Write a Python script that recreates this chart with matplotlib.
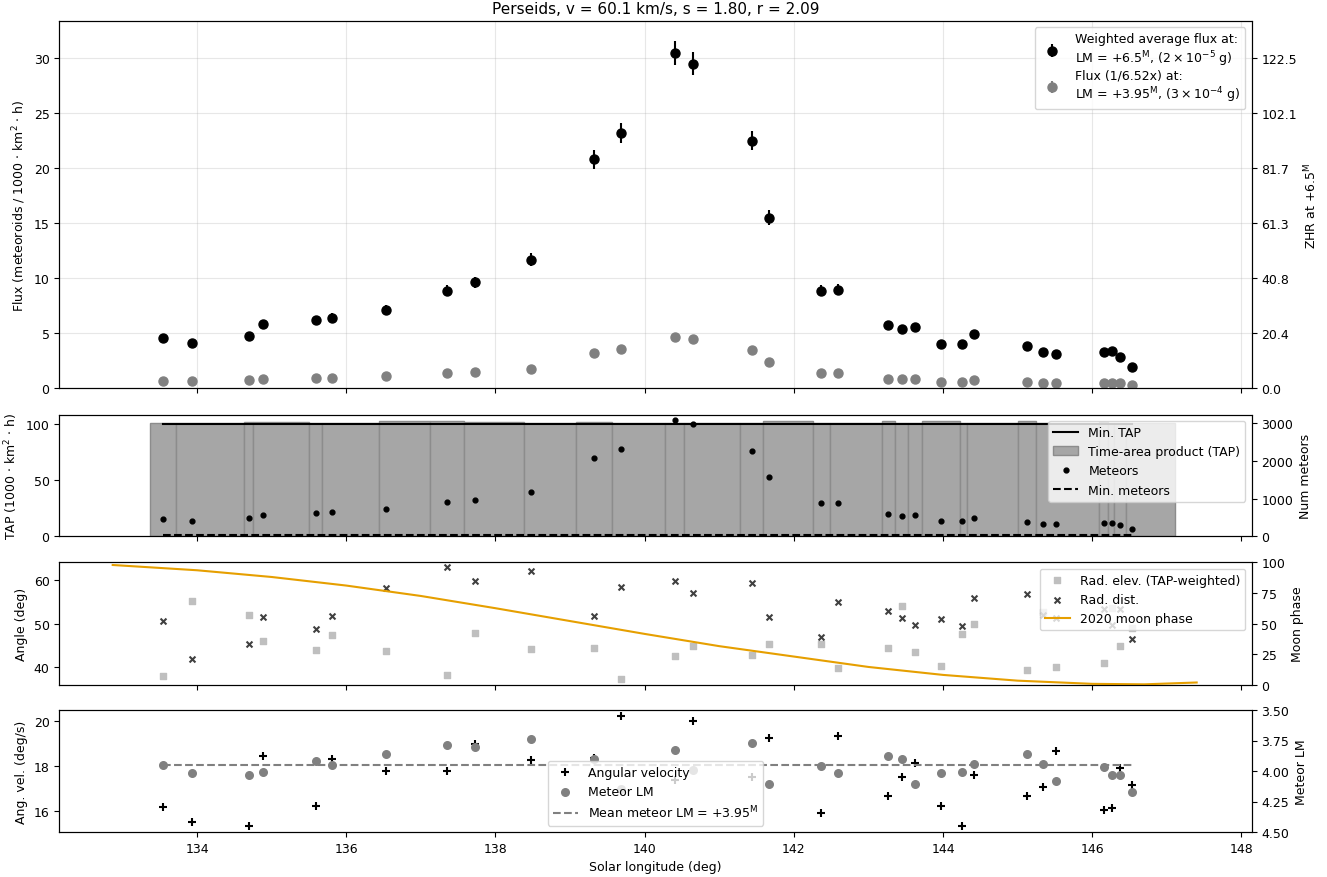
import numpy as np
import matplotlib
matplotlib.use('Agg')
import matplotlib.pyplot as plt
from matplotlib.patches import Patch
from matplotlib.lines import Line2D

plt.rcParams['font.size'] = 9

# Solar longitude of each flux bin (deg)
sol = [133.544, 133.933, 134.697, 134.885, 135.595, 135.810, 136.533, 137.351,
       137.727, 138.477, 139.322, 139.684, 140.408, 140.649, 141.440, 141.668,
       142.365, 142.592, 143.263, 143.450, 143.624, 143.973, 144.255, 144.416,
       145.126, 145.340, 145.515, 146.158, 146.265, 146.373, 146.534]

flux = [4.6, 4.15, 4.75, 5.8, 6.2, 6.4, 7.15, 8.85, 9.65, 11.7, 20.8, 23.2, 30.5,
        29.5, 22.5, 15.5, 8.85, 8.95, 5.75, 5.4, 5.55, 4.0, 4.0, 4.9, 3.8, 3.3,
        3.15, 3.3, 3.35, 2.85, 1.95]
flux_err = [0.3, 0.3, 0.3, 0.4, 0.4, 0.4, 0.45, 0.5, 0.5, 0.6, 0.85, 0.9, 1.1,
            1.05, 0.85, 0.7, 0.5, 0.5, 0.35, 0.35, 0.35, 0.3, 0.3, 0.35, 0.3,
            0.3, 0.3, 0.3, 0.3, 0.3, 0.25]
lm_ratio = 6.52
zhr_ratio = 4.084

# TAP bins (edges in solar longitude) and their TAP
tap_edges = [133.370, 133.718, 134.630, 134.751, 135.501, 135.676, 136.440,
             137.123, 137.579, 138.383, 139.080, 139.563, 140.273, 140.528,
             141.279, 141.587, 142.257, 142.485, 143.182, 143.357, 143.531,
             143.718, 144.228, 144.322, 145.005, 145.247, 146.091, 146.212,
             146.292, 146.453, 147.110]
tap = [101, 101, 101.5, 102, 101, 101, 103, 103, 102, 101, 101.5, 101, 101, 101,
       101, 102.5, 101, 101, 102.5, 101, 101, 102.5, 101, 101, 102.5, 101, 102,
       101, 101, 101]
min_tap = 100
meteors = [458, 413, 476, 571, 616, 643, 730, 899, 968, 1172, 2079, 2310, 3077,
           2971, 2265, 1569, 889, 889, 590, 537, 553, 405, 394, 492, 386, 325,
           315, 341, 341, 288, 193]
min_meteors = 30

rad_elev = [37.9, 55.2, 52.0, 46.1, 44.0, 47.5, 43.8, 38.2, 47.9, 44.1, 44.5,
            37.2, 42.6, 44.9, 42.85, 45.2, 45.2, 39.75, 44.5, 54.0, 43.5, 40.15,
            47.7, 50.0, 39.2, 52.8, 40.1, 40.95, 53.7, 44.9, 48.9]
rad_dist = [50.55, 41.9, 45.2, 51.5, 48.7, 51.85, 58.3, 63.0, 59.8, 62.3, 51.8,
            58.5, 59.9, 57.0, 59.4, 51.5, 47.0, 55.1, 53.05, 51.4, 49.7, 51.2,
            49.5, 55.85, 56.85, 52.1, 51.35, 53.5, 49.6, 53.3, 46.4]

moon_sol = [132.87, 134.0, 135.0, 136.0, 137.0, 138.0, 139.0, 140.0, 141.0,
            142.0, 143.0, 144.0, 145.0, 146.0, 146.7, 147.4]
moon_phase = [97.8, 93.5, 88.0, 81.0, 72.5, 62.5, 52.0, 41.5, 31.5, 23.0, 14.5,
              8.0, 3.3, 0.7, 0.3, 1.8]

ang_vel = [16.15, 15.49, 15.32, 18.45, 16.18, 18.29, 17.76, 17.76, 18.97, 18.25,
           18.35, 20.24, 17.35, 20.01, 17.49, 19.23, 15.89, 19.33, 16.63, 17.48,
           18.11, 16.18, 15.29, 17.57, 16.67, 17.05, 18.68, 16.04, 16.11, 17.89,
           17.15]
meteor_lm = [3.95, 4.02, 4.03, 4.01, 3.92, 3.95, 3.86, 3.79, 3.80, 3.74, 3.90,
             4.15, 3.83, 3.99, 3.77, 4.11, 3.96, 4.02, 3.88, 3.90, 4.11, 4.02,
             4.01, 3.94, 3.86, 3.94, 4.08, 3.97, 4.03, 4.03, 4.17]
mean_lm = 3.95

sol = np.array(sol)
flux = np.array(flux)
flux_err = np.array(flux_err)
edges = np.array(tap_edges)

W, H = 1327, 878
fig = plt.figure(figsize=(W / 100, H / 100), dpi=100)


def box(top, bottom, left=59.3, right=1251.5):
    return [left / W, 1 - bottom / H, (right - left) / W, (bottom - top) / H]


ax1 = fig.add_axes(box(22, 389.3))
ax2 = fig.add_axes(box(415.7, 537.3), sharex=ax1)
ax3 = fig.add_axes(box(563.3, 685.7), sharex=ax1)
ax4 = fig.add_axes(box(711, 833), sharex=ax1)

# --- Flux panel ---
ax1.errorbar(sol, flux, yerr=flux_err, fmt='o', color='k', ms=6.5,
             label='Weighted average flux at:\nLM = +6.5$^{\\mathrm{M}}$, $(2 \\times 10^{-5}$ g)', zorder=4)
ax1.errorbar(sol, flux / lm_ratio, yerr=flux_err / lm_ratio, fmt='o', color='gray', ms=6.5,
             label='Flux (1/6.52x) at:\nLM = +3.95$^{\\mathrm{M}}$, $(3 \\times 10^{-4}$ g)', zorder=4)
ax1.set_ylim(0, 33.39)
ax1.set_xlim(132.154, 148.135)
ax1.grid(color='#b0b0b0', alpha=0.3)
ax1.set_ylabel('Flux (meteoroids / 1000 $\\cdot$ km$^2$ $\\cdot$ h)')
ax1.set_title('Perseids, v = 60.1 km/s, s = 1.80, r = 2.09', fontsize=11)
ax1.legend(loc='upper right', labelspacing=0.1)
ax1.tick_params(labelbottom=False)

ax1r = ax1.twinx()
ax1r.set_ylim(0, 33.39 * zhr_ratio)
fticks = np.arange(0, 31, 5)
ax1r.set_yticks(fticks * zhr_ratio)
ax1r.set_yticklabels(['%.1f' % (t * zhr_ratio) for t in fticks])
ax1r.set_ylabel('ZHR at +6.5$^{\\mathrm{M}}$')

# --- TAP panel ---
ax2.bar(edges[:-1], tap, width=np.diff(edges), align='edge', color='#a6a6a6',
        edgecolor='#8c8c8c', linewidth=1)
ax2.plot([sol[0], sol[-1]], [min_tap, min_tap], color='k', lw=1.5)
ax2.set_ylim(0, 108.3)
ax2.set_yticks([0, 50, 100])
ax2.set_ylabel('TAP (1000 $\\cdot$ km$^2$ $\\cdot$ h)')
ax2.tick_params(labelbottom=False)

ax2r = ax2.twinx()
ax2r.scatter(sol, meteors, s=12, color='k', zorder=3)
ax2r.plot([sol[0], sol[-1]], [min_meteors, min_meteors], color='k', ls='--', lw=1.5)
ax2r.set_ylim(0, 3217)
ax2r.set_yticks([0, 1000, 2000, 3000])
ax2r.set_ylabel('Num meteors')
h2 = [Line2D([], [], color='k', lw=1.5),
      Patch(facecolor='#a6a6a6', edgecolor='#8c8c8c'),
      Line2D([], [], color='k', marker='o', ms=3.5, ls=''),
      Line2D([], [], color='k', ls='--', lw=1.5)]
ax2r.legend(h2, ['Min. TAP', 'Time-area product (TAP)', 'Meteors', 'Min. meteors'],
            loc='upper right')

# --- Angle panel ---
ax3.scatter(sol, rad_elev, marker='s', s=14, color='#bfbfbf', label='Rad. elev. (TAP-weighted)')
ax3.scatter(sol, rad_dist, marker='x', s=18, color='#404040', linewidths=1.5, label='Rad. dist.')
ax3.set_ylim(35.9, 64.2)
ax3.set_ylabel('Angle (deg)')
ax3.tick_params(labelbottom=False)

ax3r = ax3.twinx()
ax3r.plot(moon_sol, moon_phase, color='#e69f00', lw=1.5, label='2020 moon phase')
ax3r.set_ylim(0, 100)
ax3r.set_yticks([0, 25, 50, 75, 100])
ax3r.set_ylabel('Moon phase')
h3a, l3a = ax3.get_legend_handles_labels()
h3b, l3b = ax3r.get_legend_handles_labels()
ax3r.legend(h3a + h3b, l3a + l3b, loc='upper right')

# --- Angular velocity panel ---
ax4.scatter(sol, ang_vel, marker='+', s=36, color='k', linewidths=1.5, label='Angular velocity')
ax4.set_ylim(15.04, 20.49)
ax4.set_yticks([16, 18, 20])
ax4.set_ylabel('Ang. vel. (deg/s)')
ax4.set_xlabel('Solar longitude (deg)')

ax4r = ax4.twinx()
ax4r.scatter(sol, meteor_lm, s=30, color='gray', label='Meteor LM')
ax4r.plot([sol[0], sol[-1]], [mean_lm, mean_lm], color='gray', ls='--', lw=1.5,
          label='Mean meteor LM = +3.95$^{\\mathrm{M}}$')
ax4r.set_ylim(4.5, 3.5)
ax4r.set_yticks([3.5, 3.75, 4.0, 4.25, 4.5])
ax4r.set_ylabel('Meteor LM')
h4a, l4a = ax4.get_legend_handles_labels()
h4b, l4b = ax4r.get_legend_handles_labels()
ax4r.legend(h4a + h4b, l4a + l4b, loc='lower center')

fig.savefig('out.png', dpi=100)
